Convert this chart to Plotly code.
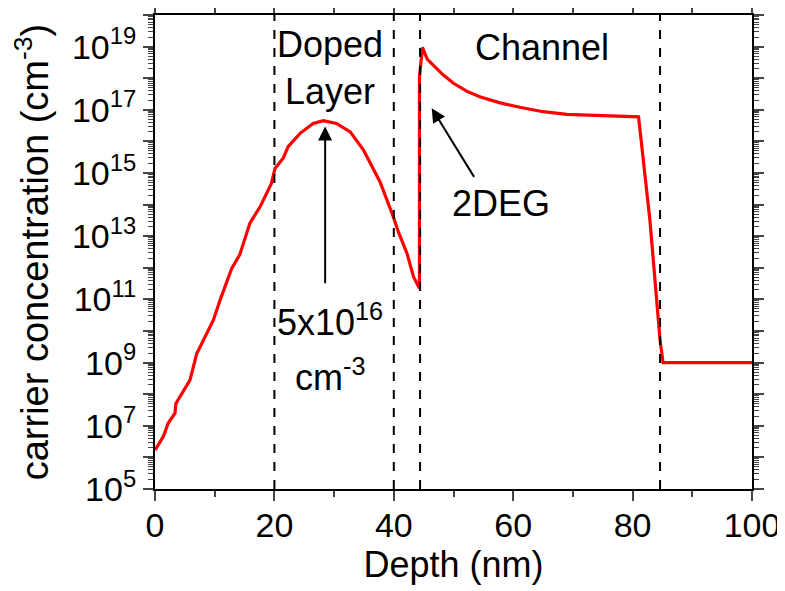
import plotly.graph_objects as go

# ---- data ----
depth_nm = [0, 1.4, 2.2, 3.35, 3.5, 5.86, 6.98, 9.77, 10.9, 12.85, 14.2, 15.9, 17.6,
            19.5, 20.1, 21.5, 22.3, 24.3, 26.5, 28.2, 30.4, 32.7, 34.9, 37.7, 39.9,
            40.75, 42.2, 43.3, 44.3, 44.3, 44.8, 45.6, 46.6, 48.3, 50.0, 52.2, 54.4,
            57.8, 61.1, 65.0, 69.0, 73.4, 77.9, 81.0, 82.9, 84.6, 85.1, 100]
concentration = [1.7e6, 4.6e6, 1.2e7, 2.5e7, 5.1e7, 2.8e8, 1.9e9, 2.2e10, 9.5e10, 9.5e11,
                 2.6e12, 2.6e13, 8.5e13, 4.7e14, 1.4e15, 3.0e15, 6.8e15, 1.8e16, 3.7e16,
                 4.5e16, 3.7e16, 2.0e16, 5.4e15, 5.2e14, 4.2e13, 1.4e13, 2.9e12, 5.2e11,
                 2.2e11, 1.1e18, 9.5e18, 4.0e18, 2.6e18, 1.26e18, 6.9e17, 3.9e17, 2.6e17,
                 1.66e17, 1.2e17, 8.7e16, 7.2e16, 6.8e16, 6.3e16, 6.0e16, 3.2e13, 5.2e9,
                 1.0e9, 1.0e9]

layer_boundaries = [20, 40, 44.4, 84.6]

y_exponents = list(range(5, 21))
y_tick_labels = [f"10<sup>{k}</sup>" if k % 2 == 1 else "" for k in y_exponents]
x_tick_vals = [0, 20, 40, 60, 80, 100]

FONT = "Liberation Sans, Arial, sans-serif"

fig = go.Figure()
fig.add_trace(go.Scatter(x=depth_nm, y=concentration, mode="lines",
                         line=dict(color="#ff0000", width=3.2), showlegend=False))

for b in layer_boundaries:
    fig.add_shape(type="line", x0=b, x1=b, y0=0, y1=1, xref="x", yref="paper",
                  line=dict(color="black", width=2, dash="dash"))

minor_y = [m * 10.0 ** k for k in range(5, 20) for m in range(2, 10)]

fig.update_xaxes(range=[0, 100], tickvals=x_tick_vals, ticks="outside", ticklen=10,
                 tickwidth=2, showline=True, linewidth=2, linecolor="black",
                 mirror="ticks", showgrid=False, zeroline=False, automargin=False,
                 ticklabelstandoff=-5,
                 minor=dict(tickvals=[10, 30, 50, 70, 90], ticks="outside", ticklen=6,
                            tickwidth=2, showgrid=False),
                 title=dict(text="Depth (nm)", font=dict(size=36, family=FONT, color="black"),
                            standoff=0),
                 tickfont=dict(size=34, family=FONT, color="black"))
fig.update_yaxes(type="log", range=[5, 20],
                 tickmode="array", tickvals=[10.0 ** k for k in y_exponents],
                 ticktext=y_tick_labels, ticks="outside", ticklen=10, tickwidth=2,
                 showline=True, linewidth=2, linecolor="black", mirror="ticks",
                 showgrid=False, zeroline=False, automargin=False,
                 minor=dict(tickmode="array", tickvals=minor_y, ticks="outside", ticklen=5,
                            tickwidth=1, showgrid=False),
                 title=dict(text="carrier concentration (cm<sup>-3</sup>)",
                            font=dict(size=38, family=FONT, color="black"), standoff=15),
                 tickfont=dict(size=34, family=FONT, color="black"))

ann_font = dict(size=36, family=FONT, color="black")
fig.add_annotation(x=29.3, y=18.32, text="Doped<br>Layer", showarrow=False, font=ann_font)
fig.add_annotation(x=64.8, y=18.96, text="Channel", showarrow=False, font=ann_font)
fig.add_annotation(x=58.0, y=14.05, text="2DEG", showarrow=False, font=ann_font)
fig.add_annotation(x=29.3, y=10.35, text="5x10<sup>16</sup>", showarrow=False, font=ann_font)
fig.add_annotation(x=29.3, y=8.62, text="cm<sup>-3</sup>", showarrow=False, font=ann_font)

# arrows
fig.add_annotation(x=28.5, y=16.47, ax=28.5, ay=11.46, axref="x", ayref="y",
                   showarrow=True, arrowhead=2, arrowsize=1.4, arrowwidth=2,
                   arrowcolor="black", text="")
fig.add_annotation(x=46.35, y=17.05, ax=53.6, ay=14.83, axref="x", ayref="y",
                   showarrow=True, arrowhead=2, arrowsize=1.4, arrowwidth=2,
                   arrowcolor="black", text="")

fig.update_layout(width=785, height=591, margin=dict(l=147, r=41, t=7, b=110),
                  plot_bgcolor="white", paper_bgcolor="white",
                  font=dict(family=FONT, color="black"))

fig.write_html("out.html")
